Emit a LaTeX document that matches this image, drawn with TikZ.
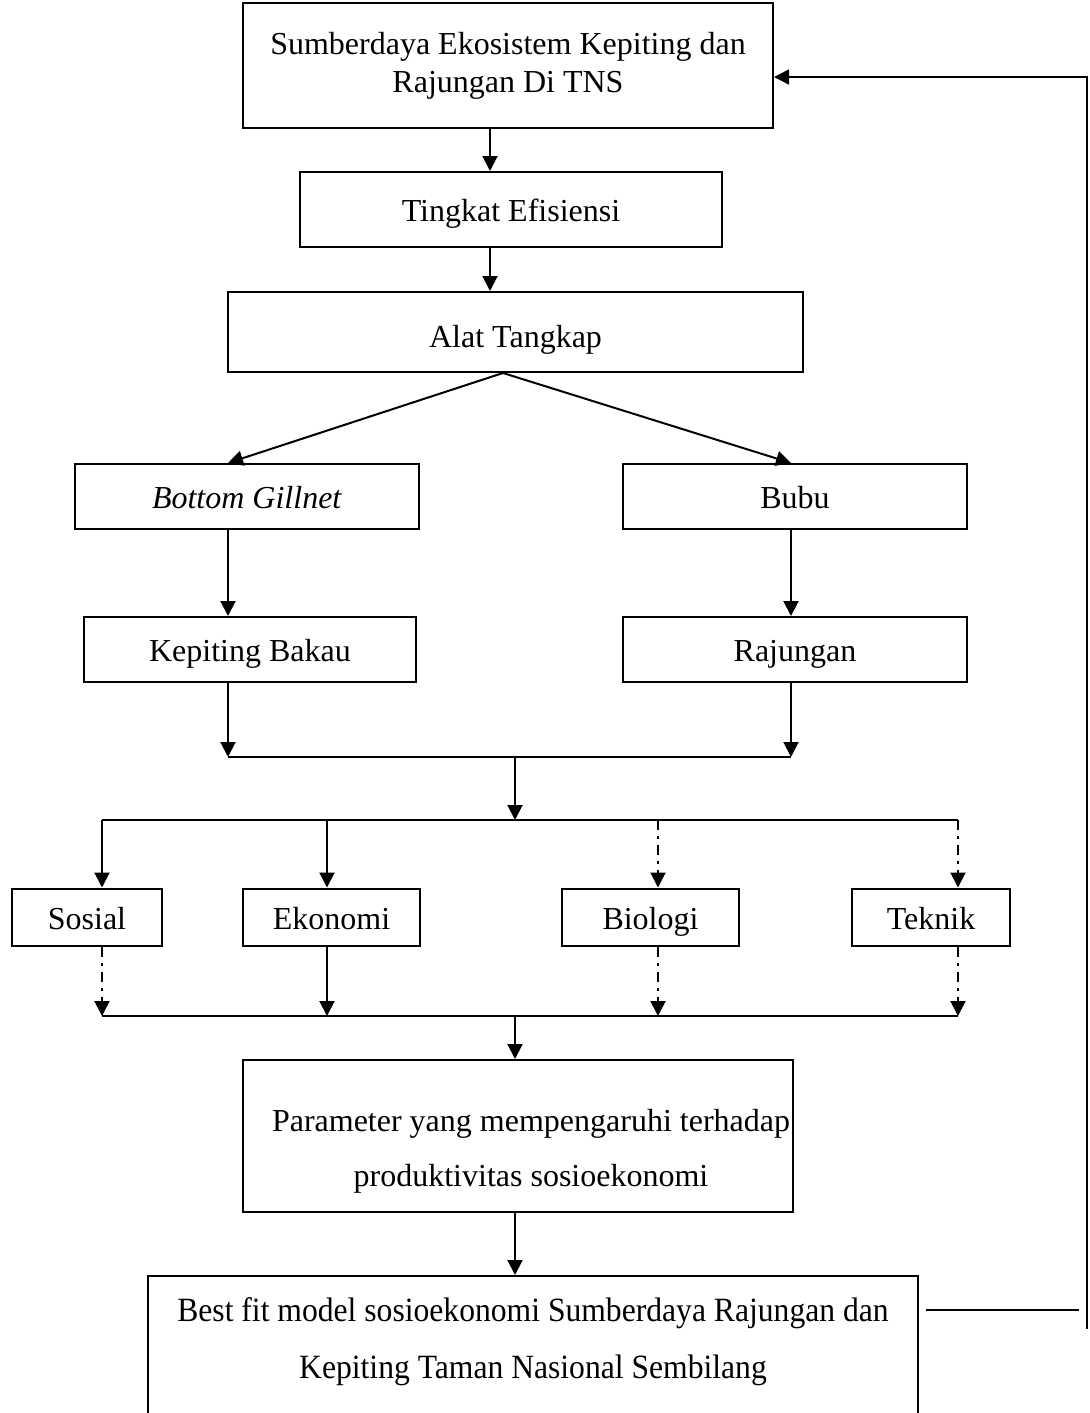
\documentclass[tikz,border=0pt]{standalone}
\usepackage{fontspec}
\setmainfont{Liberation Serif}
\newfontfamily\condfont{Liberation Serif}[FakeStretch=0.93]
\usetikzlibrary{arrows.meta}
\begin{document}
\begin{tikzpicture}[x=0.5pt,y=-0.5pt,
  box/.style={draw,line width=1pt,inner sep=0pt,align=center,font=\fontsize{16}{19}\selectfont},
  one/.style={text height=13pt,text depth=1pt},
  frame/.style={draw,line width=1pt,inner sep=0pt},
  arr/.style={line width=1pt,-{Triangle[length=7.5pt,width=7.5pt]}},
  thinline/.style={line width=0.7pt},
  dd/.style={arr,dash pattern=on 5pt off 3pt on 1.5pt off 3pt}]
\useasboundingbox (0,0) rectangle (1089,1413);
\clip (0,0) rectangle (1089,1413);
% boxes
\node[box,minimum width=265pt,minimum height=62.5pt] (src) at (508,65.5) {Sumberdaya Ekosistem Kepiting dan\\Rajungan Di TNS};
\node[box,one,minimum width=211pt,minimum height=37.5pt] (eff) at (511,209.5) {Tingkat Efisiensi};
\node[box,text height=15.5pt,text depth=0pt,minimum width=287.5pt,minimum height=40pt] (alat) at (515.5,332) {Alat Tangkap};
\node[box,one,minimum width=172pt,minimum height=32.5pt] (gill) at (247,496.5) {\textit{Bottom Gillnet}};
\node[box,one,minimum width=172pt,minimum height=32.5pt] (bubu) at (795,496.5) {Bubu};
\node[box,one,minimum width=166pt,minimum height=32.5pt] (kep) at (250,649.5) {Kepiting Bakau};
\node[box,one,minimum width=172pt,minimum height=32.5pt] (raj) at (795,649.5) {Rajungan};
\node[box,one,minimum width=75pt,minimum height=28.5pt] (sos) at (87,917) {Sosial};
\node[box,one,minimum width=88.5pt,minimum height=28.5pt] (eko) at (331.5,917) {Ekonomi};
\node[box,one,minimum width=88.5pt,minimum height=28.5pt] (bio) at (650.5,917) {Biologi};
\node[box,one,minimum width=79pt,minimum height=28.5pt] (tek) at (931,917) {Teknik};
\node[frame,minimum width=275pt,minimum height=76pt] (par) at (518,1136) {};
\node[align=center,font=\fontsize{16}{18.5}\selectfont] (partxt) at (531,1151) {Parameter yang mempengaruhi terhadap\\[9pt]produktivitas sosioekonomi};
\node[frame,minimum width=385pt,minimum height=100pt,anchor=north] (best) at (533,1275) {};
\node[align=center,font=\fontsize{17}{18.5}\selectfont] (besttxt) at (533,1342) {\condfont Best fit model sosioekonomi Sumberdaya Rajungan dan\\[10pt]\condfont Kepiting Taman Nasional Sembilang};
% coordinates
\coordinate (xa) at (490,0);
\coordinate (xb) at (503,0);
\coordinate (xl) at (228,0);
\coordinate (xr) at (791,0);
\coordinate (xm) at (515,0);
\coordinate (j1) at (228,757);
\coordinate (j2) at (791,757);
\coordinate (b1) at (102,820);
\coordinate (b2) at (958,820);
\coordinate (xe) at (327,0);
\coordinate (xg) at (658,0);
\coordinate (b3) at (102,1016);
\coordinate (b4) at (958,1016);
\coordinate (f1) at (1079,1310);
\coordinate (f2) at (1087,1329);
\coordinate (f3) at (1087,77);
% connectors
\draw[arr] (src.south -| xa) -- (eff.north -| xa);
\draw[arr] (eff.south -| xa) -- (alat.north -| xa);
\draw[arr] (alat.south -| xb) -- (gill.north -| xl);
\draw[arr] (alat.south -| xb) -- (bubu.north -| xr);
\draw[arr] (gill.south -| xl) -- (kep.north -| xl);
\draw[arr] (bubu.south -| xr) -- (raj.north -| xr);
\draw[arr] (kep.south -| xl) -- (j1);
\draw[arr] (raj.south -| xr) -- (j2);
\draw[line width=1pt] (j1) -- (j2);
\draw[arr] (j1 -| xm) -- (b1 -| xm);
\draw[thinline] (b1) -- (b2);
\draw[arr] (b1) -- (sos.north -| b1);
\draw[arr] (b1 -| xe) -- (eko.north -| xe);
\draw[dd] (b1 -| xg) -- (bio.north -| xg);
\draw[dd] (b2) -- (tek.north -| b2);
\draw[dd] (sos.south -| b3) -- (b3);
\draw[arr] (eko.south -| xe) -- (b3 -| xe);
\draw[dd] (bio.south -| xg) -- (b3 -| xg);
\draw[dd] (tek.south -| b4) -- (b4);
\draw[thinline] (b3) -- (b4);
\draw[arr] (b3 -| xm) -- (par.north -| xm);
\draw[arr] (par.south -| xm) -- (best.north -| xm);
\draw[line width=1.3pt,shorten <=3.5pt] (best.east |- f1) -- (f1);
\draw[line width=0.8pt,-{Triangle[length=7.5pt,width=7.5pt]}] (f2) -- (f3) -- (src.east |- f3);
\end{tikzpicture}
\end{document}
